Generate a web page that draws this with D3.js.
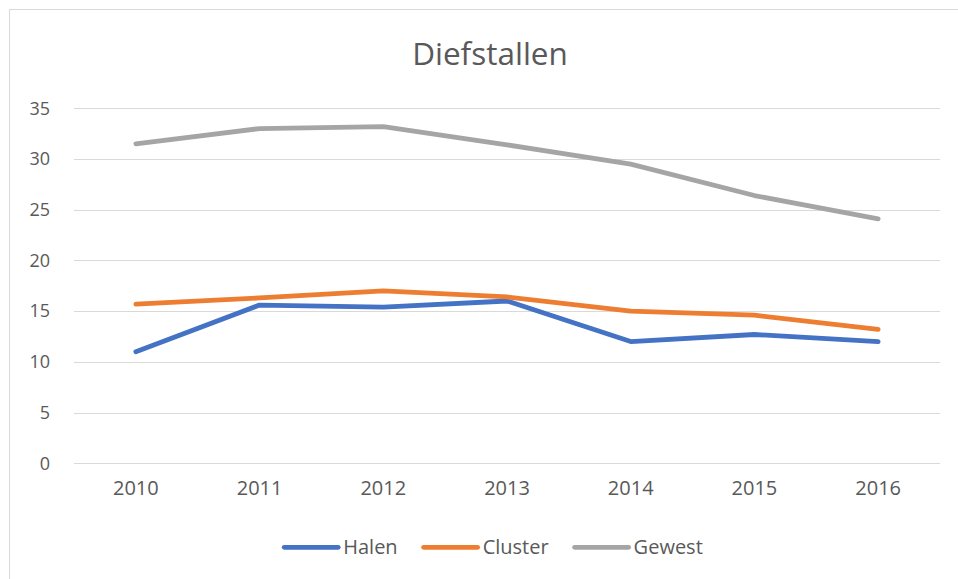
<!DOCTYPE html>
<html>
<head>
<meta charset="utf-8">
<script src="https://cdn.jsdelivr.net/npm/d3@7"></script>
<style>
  body { margin: 0; background: #fff; }
  svg { display: block; font-family: "Open Sans", "Noto Sans", sans-serif; }
</style>
</head>
<body>
<svg id="chart" width="958" height="579"></svg>
<script>
// DATA
const years = ["2010", "2011", "2012", "2013", "2014", "2015", "2016"];
const halen = [11.0, 15.6, 15.4, 16.0, 12.0, 12.7, 12.0];
const cluster = [15.7, 16.3, 17.0, 16.4, 15.0, 14.6, 13.2];
const gewest = [31.5, 33.0, 33.2, 31.4, 29.5, 26.4, 24.1];
const yTicks = [0, 5, 10, 15, 20, 25, 30, 35];

const series = [
  { name: "Halen", values: halen, color: "#4472C4" },
  { name: "Cluster", values: cluster, color: "#ED7D31" },
  { name: "Gewest", values: gewest, color: "#A5A5A5" },
];

const svg = d3.select("#chart");
const width = +svg.attr("width"),
  height = +svg.attr("height");

const plot = { left: 74, right: 940, top: 108.3, bottom: 463.3 };

// outer chart border
svg
  .append("rect")
  .attr("x", 9.5)
  .attr("y", 9.5)
  .attr("width", width + 10)
  .attr("height", height + 10)
  .attr("fill", "none")
  .attr("stroke", "#d9d9d9");

const x = d3
  .scaleBand()
  .domain(years)
  .range([plot.left, plot.right]);

const y = d3
  .scaleLinear()
  .domain([0, 35])
  .range([plot.bottom, plot.top]);

// gridlines
svg
  .append("g")
  .attr("class", "grid")
  .selectAll("line")
  .data(yTicks)
  .join("line")
  .attr("x1", plot.left)
  .attr("x2", plot.right)
  .attr("y1", (d) => Math.round(y(d)) + 0.5)
  .attr("y2", (d) => Math.round(y(d)) + 0.5)
  .attr("stroke", "#d9d9d9")
  .attr("stroke-width", 1.2);

// y axis labels
const yAxis = svg
  .append("g")
  .attr("transform", `translate(${plot.left},0)`)
  .call(d3.axisLeft(y).tickValues(yTicks).tickSize(0).tickPadding(24));
yAxis.select(".domain").remove();
yAxis
  .selectAll("text")
  .attr("fill", "#595959")
  .style("font-size", "18px")
  .style("font-family", '"Open Sans", sans-serif');

// x axis labels
const xAxis = svg
  .append("g")
  .attr("transform", `translate(0,${plot.bottom})`)
  .call(d3.axisBottom(x).tickSize(0).tickPadding(18));
xAxis.select(".domain").remove();
xAxis
  .selectAll("text")
  .attr("fill", "#595959")
  .style("font-size", "20px")
  .style("font-family", '"Open Sans", sans-serif');

// lines
const line = d3
  .line()
  .x((d, i) => x(years[i]) + x.bandwidth() / 2)
  .y((d) => y(d));

svg
  .append("g")
  .selectAll("path")
  .data(series)
  .join("path")
  .attr("d", (d) => line(d.values))
  .attr("fill", "none")
  .attr("stroke", (d) => d.color)
  .attr("stroke-width", 4.8)
  .attr("stroke-linecap", "round")
  .attr("stroke-linejoin", "round");

// title
svg
  .append("text")
  .attr("x", 490)
  .attr("y", 65)
  .attr("text-anchor", "middle")
  .attr("fill", "#595959")
  .style("font-size", "31.5px")
  .text("Diefstallen");

// legend
const legend = svg.append("g").attr("class", "legend");
const items = legend
  .selectAll("g")
  .data(series)
  .join("g");
items
  .append("line")
  .attr("x1", 0)
  .attr("x2", 54)
  .attr("y1", 0)
  .attr("y2", 0)
  .attr("stroke", (d) => d.color)
  .attr("stroke-width", 4.8)
  .attr("stroke-linecap", "round");
items
  .append("text")
  .attr("x", 59)
  .attr("y", 7)
  .attr("fill", "#595959")
  .style("font-size", "20px")
  .text((d) => d.name);

let offset = 0;
items.each(function () {
  const g = d3.select(this);
  g.attr("transform", `translate(${offset},0)`);
  offset += 59 + g.select("text").node().getComputedTextLength() + 26;
});
const legendWidth = offset - 26;
legend.attr("transform", `translate(${493.5 - legendWidth / 2},547.3)`);
</script>
</body>
</html>
